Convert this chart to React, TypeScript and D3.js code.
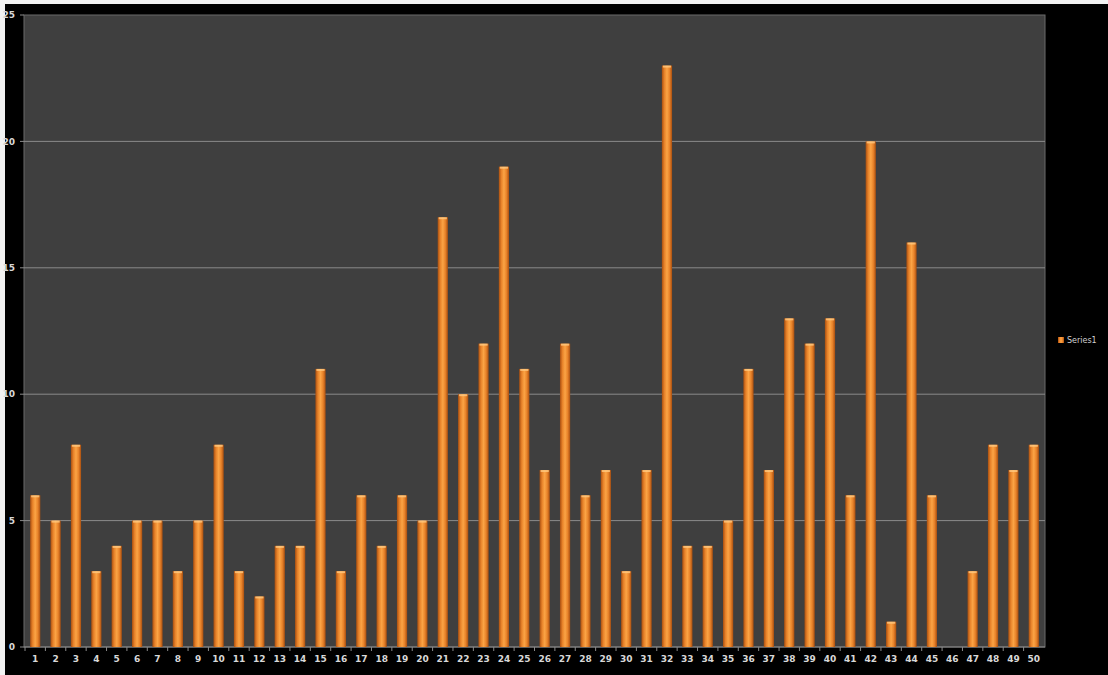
import React from "react";
import * as d3 from "d3";

const categories: string[] = Array.from({ length: 50 }, (_, i) => String(i + 1));
const series1: number[] = [
  6, 5, 8, 3, 4, 5, 5, 3, 5, 8,
  3, 2, 4, 4, 11, 3, 6, 4, 6, 5,
  17, 10, 12, 19, 11, 7, 12, 6, 7, 3,
  7, 23, 4, 4, 5, 11, 7, 13, 12, 13,
  6, 20, 1, 16, 6, 0, 3, 8, 7, 8,
];
const yTicks: number[] = [0, 5, 10, 15, 20, 25];
const seriesName = "Series1";

export default function App() {
  const W = 1108, H = 675;
  const plot = { left: 24, right: 1045, top: 15, bottom: 647 };
  const x = d3.scaleBand<string>().domain(categories).range([plot.left, plot.right]).paddingInner(0.5).paddingOuter(0.3);
  const y = d3.scaleLinear().domain([0, 25]).range([plot.bottom, plot.top]);
  const bw = x.bandwidth();
  const step = x.step();
  return (
    <svg width={W} height={H} style={{ position: "absolute", left: 0, top: 0, display: "block" }}
      fontFamily="'DejaVu Sans', sans-serif">
      <defs>
        <linearGradient id="barGrad" x1="0" x2="1" y1="0" y2="0">
          <stop offset="0%" stopColor="#a94f10" />
          <stop offset="25%" stopColor="#e8832a" />
          <stop offset="50%" stopColor="#fba445" />
          <stop offset="75%" stopColor="#e8832a" />
          <stop offset="100%" stopColor="#a94f10" />
        </linearGradient>
      </defs>
      <rect x={0} y={0} width={W} height={H} fill="#f2f2f2" />
      <rect x={5} y={4} width={W - 5} height={H - 4} fill="#000" />
      <rect x={plot.left} y={plot.top} width={plot.right - plot.left} height={plot.bottom - plot.top}
        fill="#3f3f3f" stroke="#6a6a6a" strokeWidth={1} />
      {yTicks.map((t) => (
        <g key={t}>
          {t > 0 && t < 25 && (
            <line x1={plot.left} x2={plot.right} y1={y(t)} y2={y(t)} stroke="#8a8a8a" strokeWidth={1} />
          )}
          <line x1={plot.left - 4} x2={plot.left} y1={y(t)} y2={y(t)} stroke="#8a8a8a" />
          <text x={15} y={y(t)} dy="0.35em" textAnchor="end" fontSize={9} fontWeight="bold" fill="#d8d8d8">{t}</text>
        </g>
      ))}
      <line x1={plot.left} x2={plot.right} y1={plot.bottom} y2={plot.bottom} stroke="#8a8a8a" />
      {categories.map((c) => (
        <line key={"t" + c} x1={(x(c) as number) - (step - bw) / 2} x2={(x(c) as number) - (step - bw) / 2}
          y1={plot.bottom} y2={plot.bottom + 4} stroke="#8a8a8a" />
      ))}
      {series1.map((v, i) => {
        const c = categories[i];
        const x0 = x(c) as number;
        if (v <= 0) return null;
        return (
          <g key={"b" + c}>
            <rect x={x0} y={y(v)} width={bw} height={y(0) - y(v)} fill="url(#barGrad)" />
            <rect x={x0 + 1} y={y(v)} width={bw - 2} height={2} fill="#ffc981" opacity={0.8} />
          </g>
        );
      })}
      {categories.map((c) => (
        <text key={"l" + c} x={(x(c) as number) + bw / 2} y={662} textAnchor="middle" fontSize={9}
          fontWeight="bold" fill="#d8d8d8">{c}</text>
      ))}
      <rect x={1058} y={337} width={6} height={6} fill="url(#barGrad)" />
      <text x={1067} y={343} fontSize={8} fill="#d0d0d0">{seriesName}</text>
    </svg>
  );
}
